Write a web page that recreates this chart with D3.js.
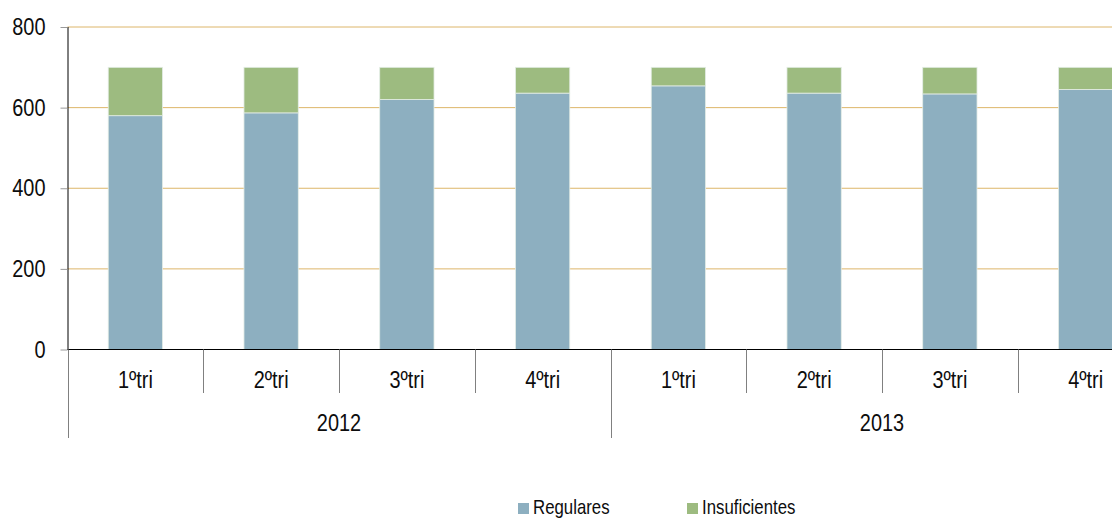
<!DOCTYPE html>
<html>
<head>
<meta charset="utf-8">
<script src="https://cdn.jsdelivr.net/npm/d3@7"></script>
<style>
  html, body { margin: 0; padding: 0; background: #fff; }
  svg { display: block; }
  text { font-family: 'Liberation Sans', Arial, sans-serif; fill: #0d0d0d; }
</style>
</head>
<body>
<svg id="chart" width="1112" height="518"></svg>
<script>
const years = ["2012", "2013"];
const quarters = ["1ºtri", "2ºtri", "3ºtri", "4ºtri"];
const categories = ["2012-1", "2012-2", "2012-3", "2012-4", "2013-1", "2013-2", "2013-3", "2013-4"];
const regulares = [580, 587, 620, 636, 654, 636, 634, 645];
const insuficientes = [120, 113, 80, 64, 46, 64, 66, 55];
const seriesNames = ["Regulares", "Insuficientes"];
const yTicks = [0, 200, 400, 600, 800];

const colors = { Regulares: "#8DAFC0", Insuficientes: "#9DBB80" };
const NARROW = 0.83;
const AXIS_SIZE = 24;

const svg = d3.select("#chart");
const x0 = 67.5, plotW = 1086, yBottom = 349.5, yTop = 27;

const x = d3.scaleBand().domain(categories).range([x0, x0 + plotW]).paddingInner(0.6).paddingOuter(0.3);
const xCat = d3.scaleBand().domain(categories).range([x0, x0 + plotW]);
const xYear = d3.scaleBand().domain(years).range([x0, x0 + plotW]);
const y = d3.scaleLinear().domain([0, 800]).range([yBottom, yTop]);

function narrowText(sel, px, py, size, anchor, txt, k) {
  return sel.append("text")
    .attr("transform", `translate(${px},${py}) scale(${k || NARROW},1)`)
    .attr("text-anchor", anchor)
    .attr("font-size", size)
    .text(txt);
}

// gridlines
svg.append("g").selectAll("line").data(yTicks.filter(d => d > 0)).join("line")
  .attr("x1", x0).attr("x2", 1112)
  .attr("y1", d => y(d)).attr("y2", d => y(d))
  .attr("stroke", "#DDB66A").attr("stroke-width", 1);

// stacked bars
const table = categories.map((c, i) => ({ cat: c, Regulares: regulares[i], Insuficientes: insuficientes[i] }));
const stack = d3.stack().keys(seriesNames)(table);
svg.append("g").selectAll("g").data(stack).join("g")
  .attr("fill", d => colors[d.key])
  .selectAll("rect").data(d => d).join("rect")
  .attr("x", d => x(d.data.cat))
  .attr("width", x.bandwidth())
  .attr("y", d => y(d[1]))
  .attr("height", d => y(d[0]) - y(d[1]))
  .attr("stroke", "#E4EDE6").attr("stroke-width", 0.8);

// y axis
const yAxis = d3.axisLeft(y).tickValues(yTicks).tickSize(7).tickPadding(22).tickFormat(d3.format("d"));
const gy = svg.append("g").attr("transform", `translate(${x0},0)`).call(yAxis);
gy.select(".domain").attr("stroke", "#000").attr("d", `M0.5,${yBottom}V${yTop}`);
gy.selectAll(".tick line").attr("stroke", "#999").attr("x1", -7).attr("x2", 0);
gy.selectAll(".tick text")
  .attr("font-size", AXIS_SIZE).attr("fill", "#0d0d0d").attr("font-family", null)
  .attr("x", -22 / NARROW)
  .attr("transform", `scale(${NARROW},1)`);

// x axis line
svg.append("line").attr("x1", x0).attr("x2", 1112).attr("y1", yBottom).attr("y2", yBottom)
  .attr("stroke", "#000").attr("stroke-width", 1);

// category separators
svg.append("g").selectAll("line").data(categories).join("line")
  .attr("x1", d => Math.round(xCat(d)) + 0.5).attr("x2", d => Math.round(xCat(d)) + 0.5)
  .attr("y1", yBottom).attr("y2", (d, i) => i % 4 === 0 ? 438 : 393)
  .attr("stroke", "#808080").attr("stroke-width", 1);

// quarter labels
const gq = svg.append("g");
categories.forEach((c, i) => narrowText(gq, xCat(c) + xCat.bandwidth() / 2, 388, AXIS_SIZE, "middle", quarters[i % 4]));

// year labels
const gyr = svg.append("g");
years.forEach(yr => narrowText(gyr, xYear(yr) + xYear.bandwidth() / 2, 431, AXIS_SIZE, "middle", yr));

// legend
const legendX = [518, 687];
seriesNames.forEach((s, i) => {
  const g = svg.append("g").attr("transform", `translate(${legendX[i]},503)`);
  g.append("rect").attr("width", 11).attr("height", 11).attr("fill", colors[s]);
  narrowText(g, 15, 11, 20.5, "start", s, 0.82);
});
</script>
</body>
</html>
